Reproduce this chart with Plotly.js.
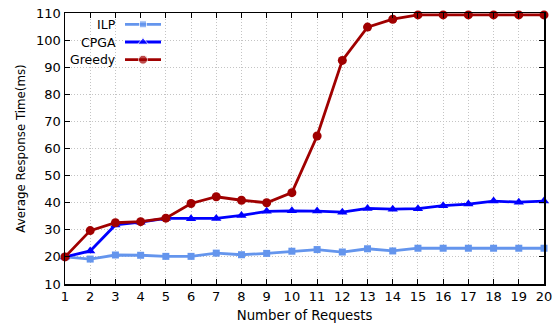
<!DOCTYPE html>
<html><head><meta charset="utf-8">
<script src="https://cdn.plot.ly/plotly-3.0.1.min.js"></script>
<style>html,body{margin:0;padding:0;background:#fff}#c{width:557px;height:333px}</style>
</head><body><div id="c"></div>
<script>
var requests = [1,2,3,4,5,6,7,8,9,10,11,12,13,14,15,16,17,18,19,20];
var ilp    = [20,19.2,20.7,20.6,20.2,20.2,21.4,20.8,21.3,22.1,22.7,21.8,23.0,22.2,23.2,23.2,23.2,23.2,23.2,23.2];
var cpga   = [20,22.2,31.8,32.8,34.2,34.1,34.2,35.3,36.8,37.0,36.9,36.5,37.9,37.6,37.8,38.9,39.5,40.6,40.2,40.6];
var greedy = [20,29.7,32.6,33.0,34.3,39.7,42.2,40.9,40.0,43.7,64.6,92.5,104.8,107.7,109.3,109.3,109.3,109.3,109.3,109.3];
var seriesNames = ['ILP','CPGA','Greedy'];
var colors = ['#6495ED','#0000FF','#A00000'];
var symbols = ['square','triangle-up','circle'];
var sizes = [7,9,9];
var data = [ilp, cpga, greedy];
var font = 'DejaVu Sans, sans-serif';

var W = 557, H = 333, L = 65, R = 13, T = 13, B = 49;
var pw = W - L - R, ph = H - T - B;

var traces = [];
for (var i = 0; i < 3; i++) {
  traces.push({x: requests, y: data[i], mode: 'lines+markers', name: seriesNames[i],
    line: {color: colors[i], width: 2.8}, marker: {color: colors[i], symbol: symbols[i], size: sizes[i]},
    showlegend: false, cliponaxis: false});
  traces.push({x: [0, 0.5, 1], y: [2 - i, 2 - i, 2 - i], xaxis: 'x2', yaxis: 'y2', mode: 'lines+markers',
    line: {color: colors[i], width: 2.8}, marker: {color: colors[i], symbol: symbols[i], size: [0, sizes[i], 0]},
    showlegend: false, hoverinfo: 'skip'});
}

var legendY = [25, 42, 59];
var annotations = [];
for (var j = 0; j < 3; j++) {
  annotations.push({xref: 'paper', yref: 'paper', x: (118 - L) / pw, y: (H - B - legendY[j]) / ph,
    text: seriesNames[j], showarrow: false,
    xanchor: 'right', yanchor: 'middle', font: {family: font, size: 12.5, color: '#000'}});
}

var layout = {
  width: W, height: H,
  margin: {l: L, r: R, t: T, b: B, pad: 0},
  paper_bgcolor: '#fff', plot_bgcolor: '#fff',
  font: {family: font, size: 13, color: '#000'},
  xaxis: {range: [1, 20], tickvals: requests, ticks: 'inside', ticklen: 5, tickcolor: '#000',
    showline: true, linecolor: '#000', linewidth: 1.5, mirror: 'allticks',
    showgrid: true, gridcolor: '#c4c4c4', griddash: '1px,2px', gridwidth: 1, zeroline: false,
    title: {text: 'Number of Requests', font: {family: font, size: 13.3}, standoff: 7},
    tickfont: {family: font, size: 13}},
  yaxis: {range: [10, 110], dtick: 10, tick0: 10, ticks: 'inside', ticklen: 5, tickcolor: '#000',
    showline: true, linecolor: '#000', linewidth: 1.5, mirror: 'allticks',
    showgrid: true, gridcolor: '#c4c4c4', griddash: '1px,2px', gridwidth: 1, zeroline: false,
    title: {text: 'Average Response Time(ms)', font: {family: font, size: 11.8}, standoff: 8},
    tickfont: {family: font, size: 13}},
  xaxis2: {domain: [(125 - L) / pw, (161 - L) / pw], range: [0, 1], visible: false, fixedrange: true, anchor: 'y2'},
  yaxis2: {domain: [(H - B - 65) / ph, (H - B - 19) / ph], range: [-0.3, 2.3], visible: false, fixedrange: true, anchor: 'x2'},
  annotations: annotations,
  showlegend: false
};
Plotly.newPlot('c', traces, layout, {displayModeBar: false, staticPlot: true});
</script></body></html>
